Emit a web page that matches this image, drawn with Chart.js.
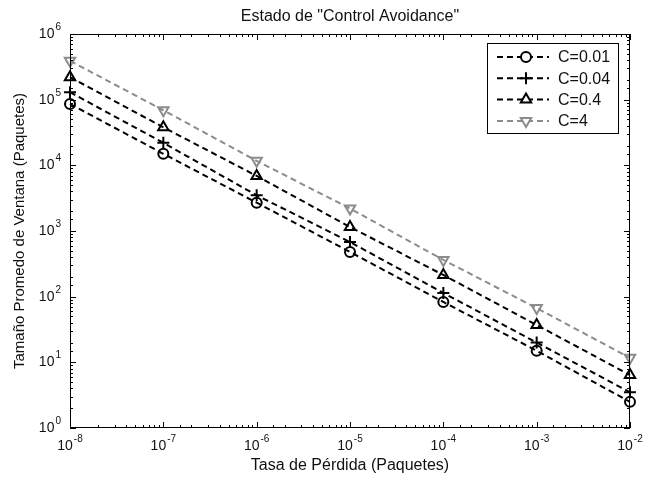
<!DOCTYPE html>
<html>
<head>
<meta charset="utf-8">
<script src="https://cdn.jsdelivr.net/npm/chart.js@4"></script>
<style>
  html, body { margin: 0; padding: 0; background: #fff; }
  .wrap { position: relative; width: 660px; height: 477px; }
</style>
</head>
<body>
<div class="wrap"><canvas id="chart" width="660" height="477"></canvas></div>
<script>
// loss rate (x) and mean window size per C value (y)
const lossRate = [1e-8, 1e-7, 1e-6, 1e-5, 1e-4, 1e-3, 1e-2];
const winC001 = [86000, 15000, 2700, 480, 83, 15, 2.5];
const winC004 = [130000, 22000, 3500, 680, 114, 20, 3.5];
const winC04  = [220000, 38000, 6900, 1150, 214, 37, 6.4];
const winC4   = [390000, 69000, 11700, 2200, 363, 67, 11.7];
const seriesLabels = ['C=0.01', 'C=0.04', 'C=0.4', 'C=4'];
const chartTitle = 'Estado de "Control Avoidance"';

const FONT = '"Liberation Sans", Arial, Helvetica, sans-serif';
const INK = '#111';
const GRAY = '#8c8c8c';

const isPow10 = v => Math.abs(Math.log10(v) - Math.round(Math.log10(v))) < 1e-9;

const styles = [
  { color: '#000', pointStyle: 'circle', rotation: 0, radius: 5 },
  { color: '#000', pointStyle: 'cross', rotation: 0, radius: 6 },
  { color: '#000', pointStyle: 'triangle', rotation: 0, radius: 6 },
  { color: GRAY, pointStyle: 'triangle', rotation: 180, radius: 6 },
];

const toPoints = ys => lossRate.map((x, i) => ({ x, y: ys[i] }));
const datasets = [winC001, winC004, winC04, winC4].map((ys, i) => ({
  label: seriesLabels[i],
  data: toPoints(ys),
  borderColor: styles[i].color,
  borderWidth: 2,
  borderDash: [6, 4],
  pointStyle: styles[i].pointStyle,
  pointRotation: styles[i].rotation,
  pointRadius: styles[i].radius,
  pointBorderWidth: 2,
  pointBorderColor: styles[i].color,
  pointBackgroundColor: 'rgba(0,0,0,0)',
  fill: false,
  tension: 0,
  clip: false,
}));

// "10" with a raised exponent; align is 'right' (y axis) or 'center' (x axis)
function drawPow(ctx, exp, x, y, align) {
  ctx.font = '14px ' + FONT;
  const base = '10';
  const bw = ctx.measureText(base).width;
  ctx.font = '10px ' + FONT;
  const e = String(exp);
  const ew = ctx.measureText(e).width;
  const total = bw + 1 + ew;
  const left = align === 'right' ? x - total : x - total / 2;
  ctx.textBaseline = 'alphabetic';
  ctx.textAlign = 'left';
  ctx.font = '14px ' + FONT;
  ctx.fillText(base, left, y);
  ctx.font = '10px ' + FONT;
  ctx.fillText(e, left + bw + 1, y - 8);
}

// frame with inward ticks on all four sides, tick labels, title, legend
const framePlugin = {
  id: 'frame',
  afterDraw(chart) {
    const { ctx, chartArea: a, scales: { x, y } } = chart;
    ctx.save();
    ctx.strokeStyle = '#000';
    ctx.lineWidth = 1;
    ctx.strokeRect(a.left + 0.5, a.top + 0.5, a.width - 1, a.height - 1);
    ctx.beginPath();
    x.ticks.forEach(t => {
      const px = Math.round(x.getPixelForValue(t.value)) + 0.5;
      const len = isPow10(t.value) ? 6 : 3;
      ctx.moveTo(px, a.bottom); ctx.lineTo(px, a.bottom - len);
      ctx.moveTo(px, a.top); ctx.lineTo(px, a.top + len);
    });
    y.ticks.forEach(t => {
      const py = Math.round(y.getPixelForValue(t.value)) + 0.5;
      const len = isPow10(t.value) ? 6 : 3;
      ctx.moveTo(a.left, py); ctx.lineTo(a.left + len, py);
      ctx.moveTo(a.right, py); ctx.lineTo(a.right - len, py);
    });
    ctx.stroke();

    ctx.fillStyle = INK;
    x.ticks.filter(t => isPow10(t.value)).forEach(t => {
      drawPow(ctx, Math.round(Math.log10(t.value)), x.getPixelForValue(t.value), a.bottom + 22, 'center');
    });
    y.ticks.filter(t => isPow10(t.value)).forEach(t => {
      drawPow(ctx, Math.round(Math.log10(t.value)), a.left - 9, y.getPixelForValue(t.value) + 4, 'right');
    });

    // title centred over the plot box
    ctx.font = '16px ' + FONT;
    ctx.textAlign = 'center';
    ctx.textBaseline = 'middle';
    ctx.fillText(chartTitle, (a.left + a.right) / 2, 17);
    ctx.restore();
  },
  afterDatasetsDraw(chart) {
    const { ctx } = chart;
    const bx = 487, by = 43, bw = 131, bh = 90;
    ctx.save();
    ctx.fillStyle = '#fff';
    ctx.fillRect(bx, by, bw, bh);
    ctx.strokeStyle = '#000';
    ctx.lineWidth = 1;
    ctx.strokeRect(bx + 0.5, by + 0.5, bw, bh);
    chart.data.datasets.forEach((ds, i) => {
      const ry = 57 + i * 21.3;
      ctx.strokeStyle = ds.borderColor;
      ctx.lineWidth = 2;
      ctx.setLineDash([6, 4]);
      ctx.beginPath();
      ctx.moveTo(497, ry); ctx.lineTo(549, ry);
      ctx.stroke();
      ctx.setLineDash([]);
      ctx.fillStyle = '#fff';
      Chart.helpers.drawPoint(ctx, {
        pointStyle: ds.pointStyle, rotation: ds.pointRotation,
        radius: ds.pointRadius, borderWidth: 2,
      }, 526, ry);
      ctx.fillStyle = INK;
      ctx.font = '16px ' + FONT;
      ctx.textAlign = 'left';
      ctx.textBaseline = 'middle';
      ctx.fillText(ds.label, 558, ry + 1);
    });
    ctx.restore();
  },
};

new Chart(document.getElementById('chart'), {
  type: 'line',
  data: { datasets },
  options: {
    responsive: false,
    animation: false,
    layout: { padding: { top: 34, right: 30, left: 0, bottom: 0 } },
    plugins: {
      legend: { display: false },
      tooltip: { enabled: false },
      title: { display: false },
    },
    scales: {
      x: {
        type: 'logarithmic',
        min: 1e-8,
        max: 1e-2,
        grid: { display: false },
        border: { display: false },
        ticks: { display: false, autoSkip: false },
        title: {
          display: true,
          text: 'Tasa de Pérdida (Paquetes)',
          color: INK,
          font: { family: FONT, size: 16 },
          padding: { top: 4, bottom: 1.5 },
        },
        afterFit: s => { s.height = 49; },
      },
      y: {
        type: 'logarithmic',
        min: 1,
        max: 1e6,
        grid: { display: false },
        border: { display: false },
        ticks: { display: false, autoSkip: false },
        title: {
          display: true,
          text: 'Tamaño Promedo de Ventana (Paquetes)',
          color: INK,
          font: { family: FONT, size: 15 },
          padding: { top: 11, bottom: 4 },
        },
        afterFit: s => { s.width = 70; },
      },
    },
  },
  plugins: [framePlugin],
});
</script>
</body>
</html>
